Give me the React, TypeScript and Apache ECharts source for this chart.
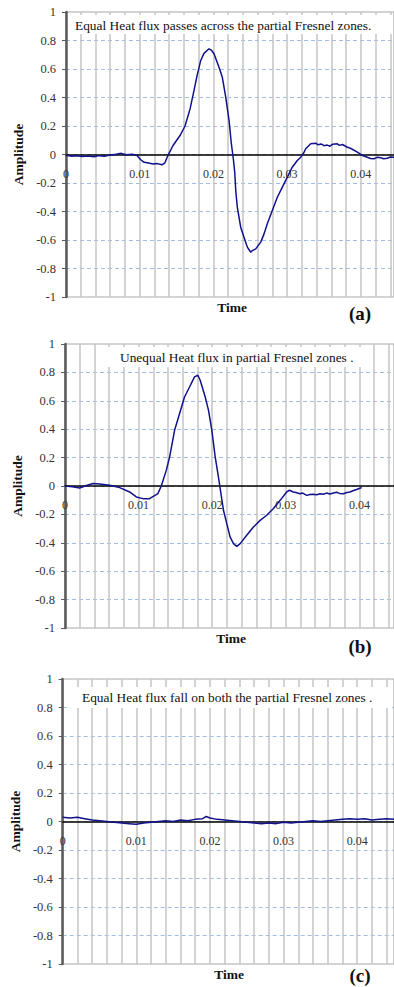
import React, { useEffect, useRef } from "react";
import * as echarts from "echarts";

// Panel (a): equal heat flux passes across the partial Fresnel zones
const timeA = [0, 0.0008, 0.0015, 0.0022, 0.003, 0.0038, 0.0045, 0.0052, 0.006, 0.0068, 0.0075, 0.0082, 0.009, 0.0096, 0.0101, 0.0106, 0.0112, 0.0118, 0.0124, 0.013, 0.0134, 0.0138, 0.01452, 0.01547, 0.01615, 0.01683, 0.01737, 0.01777, 0.01828, 0.01872, 0.0194, 0.01975, 0.02008, 0.02076, 0.02121, 0.02167, 0.02212, 0.02243, 0.0227, 0.0229, 0.02303, 0.02324, 0.0237, 0.02415, 0.0246, 0.02506, 0.02528, 0.02574, 0.02642, 0.02687, 0.02731, 0.02799, 0.02867, 0.02935, 0.03003, 0.0307, 0.03138, 0.03185, 0.0323, 0.03252, 0.0332, 0.03388, 0.0342, 0.0346, 0.035, 0.03545, 0.0358, 0.0362, 0.03681, 0.0371, 0.0375, 0.03817, 0.0385, 0.0389, 0.03953, 0.0402, 0.0405, 0.04088, 0.0413, 0.04179, 0.0422, 0.0427, 0.0431, 0.0436, 0.044, 0.0445];
const ampA = [-0.005, -0.012, -0.008, -0.014, -0.01, -0.016, -0.008, -0.012, -0.004, 0.002, 0.008, -0.002, 0.002, -0.006, -0.035, -0.055, -0.06, -0.066, -0.064, -0.072, -0.06, -0.01, 0.063, 0.133, 0.2, 0.32, 0.45, 0.55, 0.66, 0.71, 0.742, 0.73, 0.707, 0.613, 0.542, 0.402, 0.239, 0.077, -0.03, -0.13, -0.253, -0.37, -0.51, -0.58, -0.65, -0.686, -0.674, -0.662, -0.615, -0.557, -0.486, -0.393, -0.3, -0.229, -0.159, -0.089, -0.042, -0.019, 0.016, 0.04, 0.075, 0.079, 0.068, 0.074, 0.062, 0.066, 0.058, 0.072, 0.075, 0.064, 0.07, 0.051, 0.046, 0.035, 0.016, -0.007, -0.012, -0.019, -0.028, -0.03, -0.02, -0.023, -0.03, -0.026, -0.018, -0.019];

// Panel (b): unequal heat flux in partial Fresnel zones
const timeB = [0, 0.001, 0.002, 0.0029, 0.0038, 0.0047, 0.00607, 0.00742, 0.00878, 0.00969, 0.01058, 0.01149, 0.01262, 0.01308, 0.01376, 0.01421, 0.01489, 0.01557, 0.01624, 0.01692, 0.0176, 0.01805, 0.01837, 0.01905, 0.0195, 0.01995, 0.02041, 0.02085, 0.02109, 0.02153, 0.02198, 0.02244, 0.02289, 0.02334, 0.0238, 0.02469, 0.0256, 0.02651, 0.02741, 0.02832, 0.02923, 0.03012, 0.0305, 0.03103, 0.0315, 0.0319, 0.0323, 0.03284, 0.0333, 0.0337, 0.0342, 0.03465, 0.0351, 0.03555, 0.036, 0.03646, 0.0369, 0.0373, 0.03782, 0.0383, 0.03872, 0.0392, 0.03962, 0.0403];
const ampB = [0, -0.006, -0.014, 0.004, 0.017, 0.014, 0.005, -0.011, -0.042, -0.077, -0.089, -0.089, -0.054, 0.0, 0.11, 0.204, 0.392, 0.51, 0.627, 0.697, 0.768, 0.78, 0.745, 0.627, 0.533, 0.392, 0.204, 0.063, -0.02, -0.171, -0.265, -0.36, -0.406, -0.425, -0.406, -0.347, -0.289, -0.242, -0.206, -0.159, -0.101, -0.042, -0.03, -0.042, -0.048, -0.055, -0.05, -0.066, -0.06, -0.058, -0.062, -0.054, -0.058, -0.05, -0.056, -0.049, -0.044, -0.052, -0.054, -0.046, -0.042, -0.032, -0.025, -0.011];

// Panel (c): equal heat flux falls on both partial Fresnel zones
const timeC = [0, 0.001, 0.002, 0.003, 0.004, 0.005, 0.006, 0.007, 0.008, 0.009, 0.01, 0.011, 0.012, 0.013, 0.014, 0.015, 0.016, 0.017, 0.018, 0.019, 0.0195, 0.02, 0.021, 0.022, 0.023, 0.024, 0.025, 0.026, 0.027, 0.028, 0.029, 0.03, 0.031, 0.032, 0.033, 0.034, 0.035, 0.036, 0.037, 0.038, 0.039, 0.04, 0.041, 0.042, 0.043, 0.044, 0.045];
const ampC = [0.03, 0.025, 0.03, 0.02, 0.01, 0.005, 0.0, -0.005, -0.01, -0.015, -0.02, -0.01, -0.005, 0.0, 0.005, 0.0, 0.01, 0.005, 0.015, 0.02, 0.035, 0.025, 0.015, 0.01, 0.005, 0.0, -0.005, -0.01, -0.015, -0.01, -0.015, -0.005, -0.01, -0.005, 0.0, 0.005, 0.0, 0.005, 0.01, 0.015, 0.02, 0.015, 0.02, 0.01, 0.015, 0.02, 0.015];

const panelTitles = [
  "Equal Heat flux passes across the partial Fresnel zones.",
  "Unequal Heat flux in partial Fresnel zones .",
  "Equal Heat flux fall on both the partial Fresnel zones .",
];
const panelLabels = ["(a)", "(b)", "(c)"];
const xAxisName = "Time";
const yAxisName = "Amplitude";

const FONT = "Liberation Serif, serif";

export default function App() {
  const ref = useRef<HTMLDivElement>(null);

  useEffect(() => {
    if (!ref.current) return;
    const chart = echarts.init(ref.current, null, { renderer: "svg" });

    const grids = [
      { left: 66, top: 12, height: 285, right: 0 },
      { left: 65, top: 344, height: 284, right: 0 },
      { left: 62, top: 679, height: 285, right: 0 },
    ];
    const xMax = [0.0445, 0.0447, 0.045];
    const datasets = [
      timeA.map((t, i) => [t, ampA[i]]),
      timeB.map((t, i) => [t, ampB[i]]),
      timeC.map((t, i) => [t, ampC[i]]),
    ];
    const titleBoxes = [
      { x: 68, y: 15, w: 324, h: 19, tx: 75, ty: 25 },
      { x: 108, y: 347, w: 264, h: 20, tx: 120, ty: 357 },
      { x: 70, y: 687, w: 322, h: 21, tx: 82, ty: 697.5 },
    ];
    const timePos = [
      [232, 307],
      [231, 638],
      [229, 974],
    ];
    const labelPos = [
      [360, 313],
      [360, 646],
      [360, 975],
    ];

    const fmtX = (v: number) => {
      const k = v / 0.01;
      const r = Math.round(k);
      if (Math.abs(k - r) > 1e-6) return "";
      return r === 0 ? "0" : String(r / 100);
    };

    const graphic: any[] = [];
    for (let i = 0; i < 3; i++) {
      const b = titleBoxes[i];
      graphic.push({
        type: "rect",
        z: 50,
        shape: { x: b.x, y: b.y, width: b.w, height: b.h },
        style: { fill: "#ffffff" },
      });
      graphic.push({
        type: "text",
        z: 51,
        x: b.tx,
        y: b.ty,
        style: {
          text: panelTitles[i],
          fontFamily: FONT,
          fontSize: 13.4,
          fill: "#111",
          textAlign: "left",
          textVerticalAlign: "middle",
        },
      });
      graphic.push({
        type: "text",
        z: 51,
        x: timePos[i][0],
        y: timePos[i][1],
        style: {
          text: xAxisName,
          fontFamily: FONT,
          fontSize: 13.5,
          fontWeight: "bold",
          fill: "#111",
          textAlign: "center",
          textVerticalAlign: "middle",
        },
      });
      graphic.push({
        type: "text",
        z: 51,
        x: labelPos[i][0],
        y: labelPos[i][1],
        style: {
          text: panelLabels[i],
          fontFamily: FONT,
          fontSize: 19,
          fontWeight: "bold",
          fill: "#111",
          textAlign: "center",
          textVerticalAlign: "middle",
        },
      });
    }

    const option: any = {
      animation: false,
      backgroundColor: "#ffffff",
      grid: grids.map((g) => ({
        ...g,
        show: true,
        borderColor: "#a8a8a8",
        borderWidth: 1,
        backgroundColor: "transparent",
      })),
      xAxis: grids.map((g, i) => ({
        type: "value",
        gridIndex: i,
        min: 0,
        max: xMax[i],
        interval: 0.002,
        position: "bottom",
        offset: -g.height / 2,
        axisLine: { show: true, onZero: false, lineStyle: { color: "#000", width: 1.5 } },
        axisTick: { show: false },
        axisLabel: {
          show: true,
          formatter: fmtX,
          margin: 13,
          fontFamily: FONT,
          fontSize: 12,
          color: "#333",
          showMaxLabel: false,
        },
        splitLine: { show: true, lineStyle: { color: "#c4c4c4", width: 1.5 } },
      })),
      yAxis: grids.map((_, i) => ({
        type: "value",
        gridIndex: i,
        min: -1,
        max: 1,
        interval: 0.2,
        name: yAxisName,
        nameLocation: "middle",
        nameGap: 40,
        nameRotate: 90,
        nameTextStyle: { fontFamily: FONT, fontSize: 13.5, fontWeight: "bold", color: "#111" },
        axisLine: { show: true, onZero: false, lineStyle: { color: "#5a5a5a", width: 2.5 } },
        axisTick: { show: true, length: 4, lineStyle: { color: "#5a5a5a" } },
        axisLabel: { margin: 10, fontFamily: FONT, fontSize: 12.5, color: "#333" },
        splitLine: {
          show: true,
          showMinLine: false,
          showMaxLine: false,
          lineStyle: { color: "#9fbde6", width: 1, type: [4, 3] },
        },
      })),
      series: datasets.map((d, i) => ({
        type: "line",
        xAxisIndex: i,
        yAxisIndex: i,
        data: d,
        showSymbol: false,
        symbol: "none",
        lineStyle: { color: "#12128c", width: 1.5 },
        z: 3,
      })),
      graphic,
    };

    chart.setOption(option);
    return () => chart.dispose();
  }, []);

  return (
    <div
      ref={ref}
      style={{ position: "absolute", left: 0, top: 0, width: 394, height: 987, background: "#fff" }}
    />
  );
}
